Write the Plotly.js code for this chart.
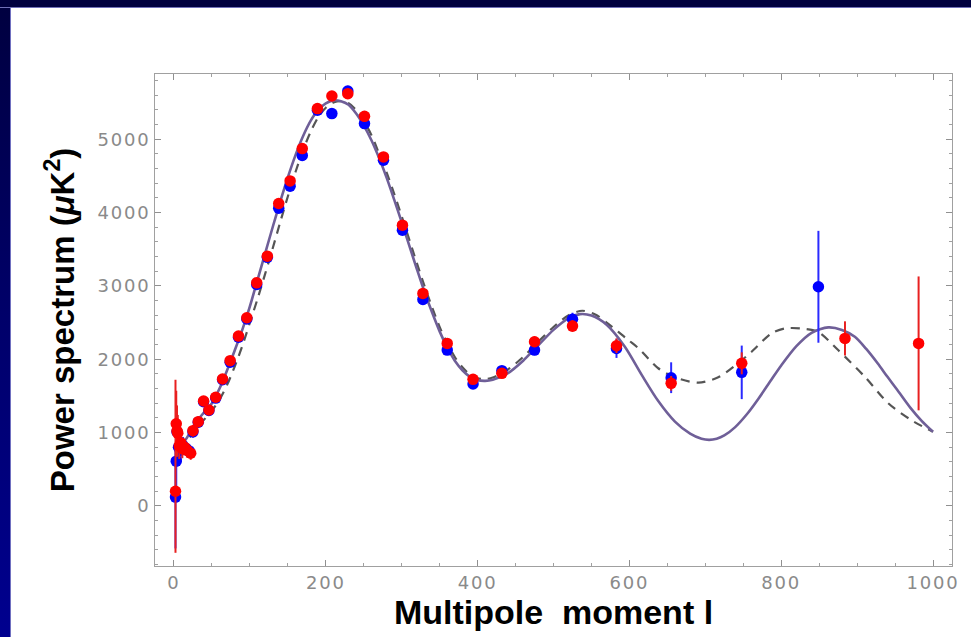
<!DOCTYPE html>
<html>
<head>
<meta charset="utf-8">
<script src="https://cdn.plot.ly/plotly-3.0.1.min.js"></script>
<style>
  html, body { margin: 0; padding: 0; background: #ffffff; }
  #wrap { position: relative; width: 971px; height: 637px; overflow: hidden; background: #ffffff; }
  #topband { position: absolute; left: 0; top: 0; width: 971px; height: 8px; background: #00003f; border-bottom: 1px solid #7070b8; box-sizing: border-box; z-index: 0; }
  #leftband { position: absolute; left: 0; top: 0; width: 11px; height: 637px; background: linear-gradient(to bottom, #00003f 0%, #00006a 50%, #00008f 100%); border-right: 1px solid #7070c0; box-sizing: border-box; z-index: 0; }
  #chart { position: absolute; left: 0; top: 0; width: 971px; height: 637px; z-index: 1; }
  .xtick text, .ytick text { letter-spacing: 1.8px; }
</style>
</head>
<body>
<div id="wrap">
  <div id="leftband"></div>
  <div id="topband"></div>
  <div id="chart"></div>
</div>
<script>
// ---- Data ----
// Blue data set: multipole l, power spectrum value, error (+/-)
var blueL   = [2, 3, 4, 6, 9, 12, 16, 20, 25, 32, 39, 46, 55, 64, 74, 85, 96, 109, 123, 138, 153, 169, 189, 208, 229, 251, 276, 301, 328, 360, 394, 432, 475, 525, 583, 655, 748, 849];
var blueV   = [120, 610, 1010, 800, 760, 820, 780, 750, 1010, 1140, 1420, 1300, 1470, 1720, 1960, 2300, 2550, 3020, 3390, 4060, 4360, 4780, 5395, 5350, 5658, 5214, 4714, 3760, 2816, 2125, 1662, 1844, 2125, 2544, 2148, 1748, 1821, 2988];
var blueErr = [700, 450, 300, 200, 150, 120, 100, 90, 80, 70, 60, 60, 50, 50, 50, 50, 50, 50, 50, 50, 50, 50, 60, 60, 70, 60, 60, 50, 50, 50, 50, 60, 70, 90, 130, 210, 365, 763];

// Red data set
var redL        = [2, 3, 4, 5, 7, 9, 11, 14, 17, 22, 25, 32, 39, 46, 55, 64, 74, 85, 96, 109, 123, 138, 153, 169, 189, 208, 229, 251, 276, 301, 328, 360, 394, 432, 475, 525, 583, 655, 748, 884, 981];
var redV        = [200, 1120, 1020, 990, 820, 860, 780, 800, 760, 718, 1026, 1149, 1430, 1308, 1481, 1730, 1980, 2316, 2565, 3042, 3406, 4124, 4432, 4873, 5418, 5590, 5622, 5313, 4759, 3828, 2898, 2216, 1726, 1808, 2239, 2452, 2184, 1671, 1944, 2284, 2216];
var redErrPlus  = [1520, 450, 350, 250, 180, 150, 130, 110, 100, 90, 80, 70, 60, 60, 50, 50, 50, 50, 50, 50, 50, 50, 50, 50, 60, 60, 70, 60, 60, 50, 50, 50, 50, 60, 70, 80, 100, 100, 150, 233, 913];
var redErrMinus = [840, 450, 350, 250, 180, 150, 130, 110, 100, 90, 80, 70, 60, 60, 50, 50, 50, 50, 50, 50, 50, 50, 50, 50, 60, 60, 70, 60, 60, 50, 50, 50, 50, 60, 70, 80, 100, 100, 150, 233, 913];

// Solid model curve
var solidL = [2, 5, 10, 15, 20, 30, 40, 50, 60, 70, 80, 90, 100, 110, 120, 130, 140, 150, 160, 170, 180, 190, 200, 210, 220, 230, 240, 250, 260, 270, 280, 290, 300, 310, 320, 330, 340, 350, 360, 370, 380, 390, 400, 410, 420, 440, 460, 480, 500, 520, 535, 550, 570, 594, 616, 638, 660, 680, 695, 705, 715, 725, 739, 755, 770, 787, 800, 820, 840, 862, 880, 897, 912, 927, 940, 953, 970, 985, 1000];
var solidV = [860, 880, 880, 900, 980, 1150, 1280, 1400, 1600, 1850, 2120, 2400, 2720, 3080, 3440, 3800, 4150, 4480, 4780, 5040, 5250, 5400, 5490, 5530, 5520, 5470, 5350, 5190, 4990, 4750, 4480, 4180, 3870, 3550, 3230, 2920, 2640, 2380, 2160, 1980, 1850, 1760, 1715, 1705, 1720, 1810, 1980, 2190, 2400, 2560, 2615, 2595, 2470, 2170, 1790, 1430, 1150, 985, 915, 900, 915, 960, 1071, 1253, 1462, 1721, 1915, 2178, 2360, 2434, 2400, 2306, 2140, 1944, 1760, 1580, 1340, 1160, 1010];

// Dashed model curve
var dashL = [2, 10, 20, 30, 40, 50, 60, 70, 80, 90, 100, 110, 120, 130, 140, 150, 160, 170, 180, 190, 200, 210, 220, 230, 240, 250, 260, 270, 280, 290, 300, 310, 320, 330, 340, 350, 360, 370, 380, 390, 400, 410, 420, 440, 460, 480, 500, 520, 538, 555, 570, 585, 600, 612, 638, 660, 691, 717, 743, 761, 787, 805, 826, 848, 875, 910, 941, 971, 1000];
var dashV = [850, 860, 930, 1060, 1180, 1300, 1450, 1650, 1900, 2180, 2500, 2820, 3160, 3510, 3870, 4220, 4550, 4850, 5100, 5300, 5430, 5500, 5520, 5490, 5400, 5250, 5060, 4810, 4550, 4260, 3950, 3630, 3310, 3000, 2710, 2440, 2220, 2030, 1890, 1790, 1740, 1730, 1750, 1860, 2030, 2240, 2440, 2600, 2661, 2610, 2500, 2375, 2250, 2149, 1877, 1753, 1680, 1753, 1944, 2102, 2352, 2420, 2420, 2375, 2125, 1762, 1399, 1172, 1010];

// Axis tick values / labels
var xTickVals = [0, 200, 400, 600, 800, 1000];
var xTickText = ['0', '200', '400', '600', '800', '1000'];
var yTickVals = [0, 1000, 2000, 3000, 4000, 5000];
var yTickText = ['0', '1000', '2000', '3000', '4000', '5000'];

var traces = [
  {
    x: dashL, y: dashV, type: 'scatter', mode: 'lines',
    line: {color: '#555555', width: 2.2, dash: '9px,7px', shape: 'spline', smoothing: 0.8},
    hoverinfo: 'skip', showlegend: false
  },
  {
    x: solidL, y: solidV, type: 'scatter', mode: 'lines',
    line: {color: '#6f5f98', width: 2.6, shape: 'spline', smoothing: 0.8},
    hoverinfo: 'skip', showlegend: false
  },
  {
    x: blueL, y: blueV, type: 'scatter', mode: 'markers',
    marker: {color: '#0000ff', size: 11.5},
    error_y: {type: 'data', array: blueErr, visible: true, color: '#2a2aff', thickness: 2, width: 0},
    showlegend: false
  },
  {
    x: redL, y: redV, type: 'scatter', mode: 'markers',
    marker: {color: '#ff0000', size: 11.5},
    error_y: {type: 'data', symmetric: false, array: redErrPlus, arrayminus: redErrMinus, visible: true, color: '#e82020', thickness: 2, width: 0},
    showlegend: false
  }
];

var axisCommon = {
  showgrid: false, zeroline: false,
  showline: true, linecolor: '#a0a0a0', linewidth: 1, mirror: 'ticks',
  ticks: 'inside', ticklen: 6, tickcolor: '#909090', tickwidth: 1,
  tickfont: {family: 'DejaVu Sans', size: 18, color: '#8a8a8a'}
};

var layout = {
  width: 971, height: 637,
  margin: {l: 155, r: 19, t: 74, b: 71, pad: 0},
  paper_bgcolor: 'rgba(0,0,0,0)',
  plot_bgcolor: '#ffffff',
  showlegend: false,
  xaxis: Object.assign({}, axisCommon, {
    range: [-25, 1025],
    tickmode: 'array', tickvals: xTickVals, ticktext: xTickText,
    minor: {dtick: 50, tick0: 0, ticks: 'inside', ticklen: 3, tickcolor: '#a0a0a0'},
    title: {text: 'Multipole  moment l', font: {family: 'Liberation Sans, Arial, sans-serif', size: 34, color: '#000000', weight: 'bold'}, standoff: 7}
  }),
  yaxis: Object.assign({}, axisCommon, {
    range: [-820, 5890],
    tickmode: 'array', tickvals: yTickVals, ticktext: yTickText,
    minor: {dtick: 200, tick0: 0, ticks: 'inside', ticklen: 3, tickcolor: '#a0a0a0'},
    title: {text: 'Power spectrum (<i>μ</i>K<sup>2</sup>)', font: {family: 'Liberation Sans, Arial, sans-serif', size: 33, color: '#000000', weight: 'bold'}, standoff: 12}
  })
};

Plotly.newPlot('chart', traces, layout, {displayModeBar: false, staticPlot: true});
</script>
</body>
</html>
